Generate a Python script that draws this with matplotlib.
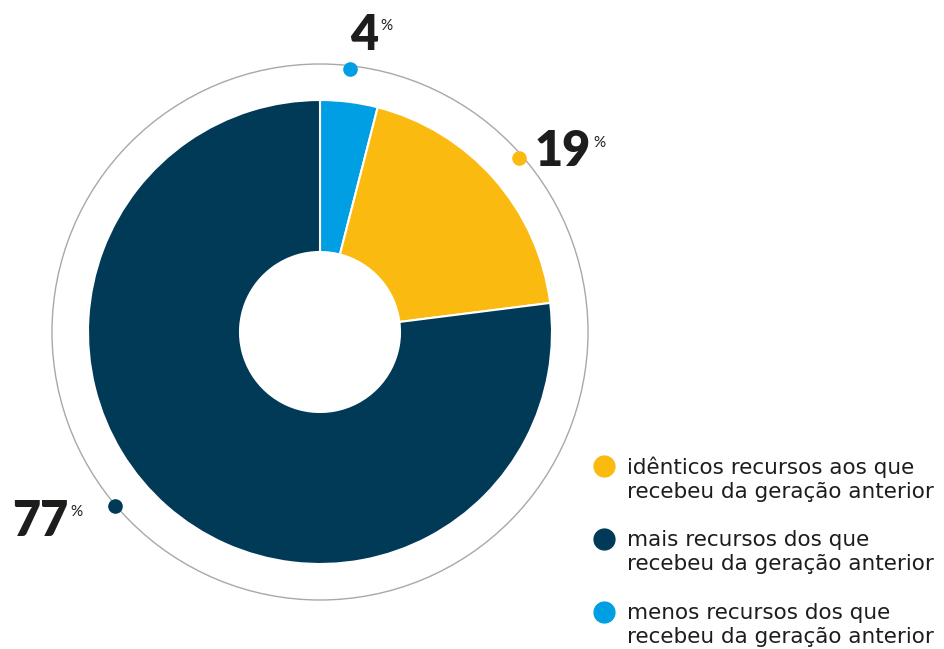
import matplotlib.pyplot as plt
from matplotlib.patches import Circle

# data
shares = [4, 19, 77]
colors = ['#009fe3', '#fbba10', '#003a57']
legend_labels = ['idênticos recursos aos que\nrecebeu da geração anterior',
                 'mais recursos dos que\nrecebeu da geração anterior',
                 'menos recursos dos que\nrecebeu da geração anterior']
legend_colors = ['#fbba10', '#003a57', '#009fe3']

plt.rcParams['font.family'] = ['Lato', 'DejaVu Sans']

fig = plt.figure(figsize=(9.44, 6.49), dpi=100)
ax = fig.add_axes([0, 0, 1, 1])

cx, cy = 320, 317
ax.pie(shares, colors=colors, startangle=90, counterclock=False,
       radius=232, center=(cx, cy), frame=True,
       wedgeprops=dict(width=152, edgecolor='white', linewidth=1.5))
ax.set_xlim(0, 944)
ax.set_ylim(0, 649)
ax.set_aspect('equal')
ax.axis('off')

ring = Circle((cx, cy), 268, fill=False, edgecolor='#a8a8a8', linewidth=1)
ax.add_patch(ring)

# markers on the ring
dots = [(350, 580), (519, 491), (115, 143)]
for (x, y), c in zip(dots, colors):
    ax.plot(x, y, 'o', color=c, markersize=9.5, zorder=5)

# percentage labels (number right edge, then small % sign)
num_pos = [(378, 613), (591, 497), (68, 127)]
pct_pos = [(380, 623), (593, 506), (70, 137)]
for (x, y), (px, py), v in zip(num_pos, pct_pos, shares):
    ax.text(x, y, str(v), fontsize=35, fontweight='heavy', color='#1d1d1b',
            ha='right', va='center')
    ax.text(px, py, '%', fontsize=11, color='#1d1d1b', ha='left', va='center')

# legend
leg_y = [170, 97, 24]
for y, lab, c in zip(leg_y, legend_labels, legend_colors):
    ax.plot(604, y + 13, 'o', color=c, markersize=15)
    ax.text(627, y, lab, fontsize=15.5, color='#1d1d1b', ha='left',
            va='center', linespacing=1.25,
            family=['DejaVu Sans'])

fig.savefig('out.png', dpi=100)
